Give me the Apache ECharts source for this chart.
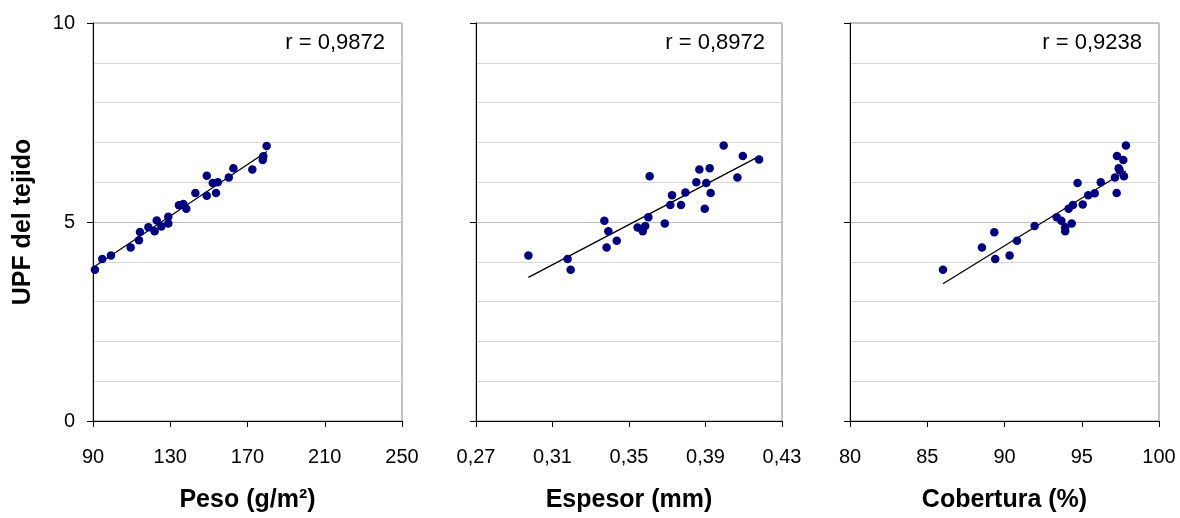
<!DOCTYPE html>
<html><head><meta charset="utf-8">
<script src="https://cdn.jsdelivr.net/npm/echarts@6/dist/echarts.min.js"></script>
<style>html,body{margin:0;padding:0;background:#fff}#c{width:1180px;height:518px}</style>
</head><body><div id="c"></div>
<script>
// ---- data ----
const pesoX = [91.0,94.8,99.3,109.5,113.8,114.3,118.7,121.9,123.0,125.4,129.0,129.0,134.5,136.8,138.3,143.0,148.9,148.9,152.0,153.7,154.6,160.3,162.7,172.5,177.9,178.2,179.9];
const pesoY = [3.80,4.07,4.16,4.36,4.54,4.75,4.87,4.77,5.04,4.89,4.96,5.13,5.42,5.45,5.33,5.73,6.16,5.66,5.98,5.73,6.00,6.12,6.35,6.32,6.56,6.65,6.91];
const espesorX = [0.2974,0.3179,0.3195,0.3371,0.3392,0.3383,0.3436,0.3545,0.3572,0.3585,0.3601,0.3608,0.3687,0.3716,0.3725,0.3772,0.3795,0.3852,0.3868,0.3896,0.3904,0.3922,0.3927,0.3995,0.4067,0.4095,0.4180];
const espesorY = [4.16,4.07,3.80,5.03,4.77,4.36,4.53,4.86,4.77,4.90,5.12,6.15,4.96,5.43,5.67,5.43,5.74,6.00,6.32,5.33,5.98,6.35,5.73,6.92,6.12,6.66,6.57];
const coberturaX = [86.02,88.54,89.34,89.40,90.33,90.81,91.95,93.38,93.68,93.93,93.93,94.35,94.15,94.43,94.73,95.06,95.42,95.84,96.23,97.15,97.26,97.28,97.39,97.45,97.69,97.73,97.86];
const coberturaY = [3.80,4.36,4.74,4.07,4.16,4.53,4.90,5.12,5.03,4.87,4.77,4.96,5.33,5.43,5.98,5.44,5.67,5.72,6.00,6.12,5.73,6.66,6.35,6.30,6.56,6.15,6.92];
const pesoTrendX = [91.0,180.1];
const pesoTrendY = [3.89,6.77];
const espesorTrendX = [0.2974,0.418];
const espesorTrendY = [3.61,6.65];
const coberturaTrendX = [86.02,97.85];
const coberturaTrendY = [3.45,6.28];
const rLabels = ['r = 0,9872','r = 0,8972','r = 0,9238'];
const xNames = ['Peso (g/m²)','Espesor (mm)','Cobertura (%)'];
const yName = 'UPF del tejido';
const xMins = [90,0.27,80], xMaxs = [250,0.43,100], xIntervals = [40,0.04,5];
const yTicks = [0,5,10];

const FONT = '"Liberation Sans", Arial, sans-serif';
const pts = (xs, ys) => xs.map((x, i) => [x, ys[i]]);
const grids = [
  {left:93, right:1180-402, top:23, bottom:518-428},
  {left:476, right:1180-782, top:23, bottom:518-428},
  {left:850, right:1180-1159, top:23, bottom:518-428}
].map(g => Object.assign(g, {show:true, borderColor:'#8c8c8c', borderWidth:1, backgroundColor:'transparent', containLabel:false}));

const xAxes = [0,1,2].map(i => ({
  type:'value', gridIndex:i, min:xMins[i], max:xMaxs[i], interval:xIntervals[i],
  name:xNames[i], nameLocation:'middle', nameGap:67,
  nameTextStyle:{fontFamily:FONT, fontSize:25, fontWeight:'bold', color:'#000'},
  axisLine:{show:true, onZero:false, lineStyle:{color:'#000', width:1}},
  axisTick:{show:true, inside:false, length:6, lineStyle:{color:'#000', width:1}},
  axisLabel:{fontFamily:FONT, fontSize:20, color:'#000', margin:26,
    formatter: v => i === 1 ? v.toFixed(2).replace('.', ',') : String(Math.round(v))},
  splitLine:{show:false}
}));
const yAxes = [0,1,2].map(i => ({
  type:'value', gridIndex:i, min:yTicks[0], max:yTicks[yTicks.length-1], interval:yTicks[1]-yTicks[0],
  name: i === 0 ? yName : '', nameLocation:'middle', nameGap:57, nameRotate:90,
  nameTextStyle:{fontFamily:FONT, fontSize:25, fontWeight:'bold', color:'#000'},
  axisLine:{show:true, onZero:false, lineStyle:{color:'#000', width:1}},
  axisTick:{show:true, inside:false, length:6, lineStyle:{color:'#000', width:1}},
  axisLabel:{show:i === 0, fontFamily:FONT, fontSize:20, color:'#000', margin:18},
  splitLine:{show:true, lineStyle:{color:'#bdbdbd', width:1}},
  minorTick:{show:false, splitNumber:5},
  minorSplitLine:{show:true, lineStyle:{color:'#d6d6d6', width:1}}
}));

const scatterData = [pts(pesoX,pesoY), pts(espesorX,espesorY), pts(coberturaX,coberturaY)];
const trendData = [pts(pesoTrendX,pesoTrendY), pts(espesorTrendX,espesorTrendY), pts(coberturaTrendX,coberturaTrendY)];
const series = [];
[0,1,2].forEach(i => {
  series.push({type:'line', xAxisIndex:i, yAxisIndex:i, data:trendData[i], symbol:'none', silent:true,
    lineStyle:{color:'#000', width:1.3}, z:3});
  series.push({type:'scatter', xAxisIndex:i, yAxisIndex:i, data:scatterData[i], symbol:'circle', symbolSize:8.5,
    itemStyle:{color:'#000080', opacity:1}, z:4});
});

const rights = [385, 765, 1142];
const graphic = rLabels.map((t, i) => ({
  type:'text', x:rights[i], y:43, z:10,
  style:{text:t, font:'22px ' + FONT, fill:'#000', textAlign:'right', textVerticalAlign:'middle'}
}));

const chart = echarts.init(document.getElementById('c'), null, {renderer:'canvas'});
chart.setOption({animation:false, backgroundColor:'#fff', grid:grids, xAxis:xAxes, yAxis:yAxes, series, graphic});
</script></body></html>
